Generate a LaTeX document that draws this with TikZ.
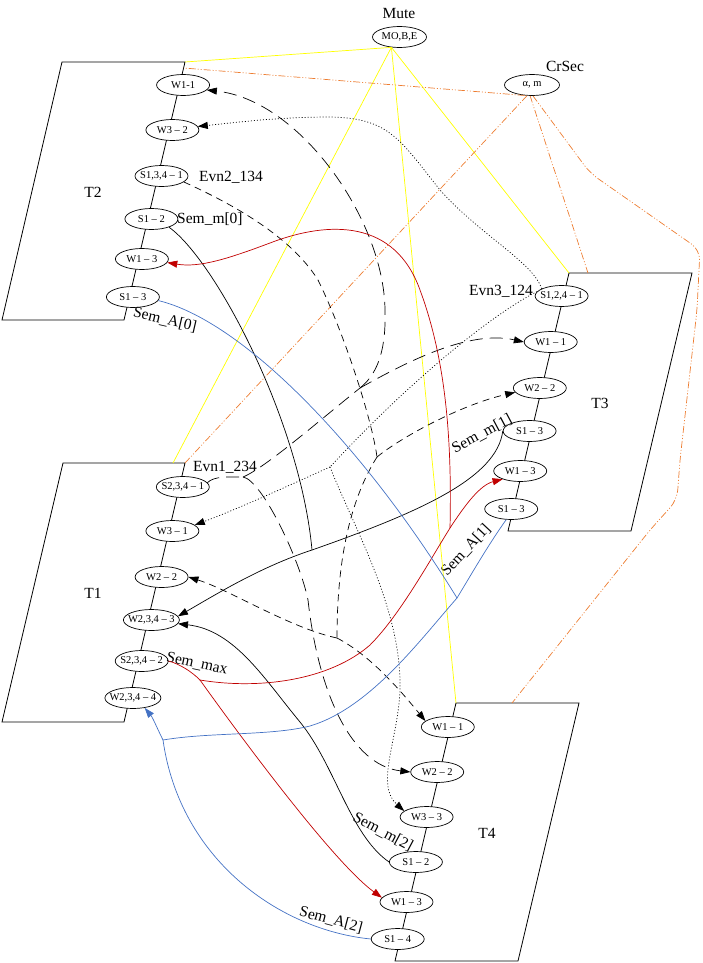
\documentclass[tikz,border=0pt]{standalone}
\usepackage{fontspec}
\setmainfont{Liberation Serif}
\usetikzlibrary{shapes.geometric,arrows.meta}

\begin{document}
\begin{tikzpicture}[x=1pt, y=-1pt, every node/.style={font=\fontsize{10.5}{12}\selectfont}]
			% Define colors
			\definecolor{mute_yellow}{RGB}{255, 255, 0}
			\definecolor{crsec_orange}{RGB}{237, 125, 49}
			\definecolor{sem_red}{RGB}{192, 0, 0}
			\definecolor{sem_blue}{RGB}{68, 114, 196}

			% Styles
			\tikzstyle{task_box} = [draw=black, line width=0.8pt]
			\tikzstyle{state_node} = [ellipse, draw=black, fill=white, line width=0.7pt, minimum width=53pt, minimum height=21pt, inner xsep=-8pt, inner ysep=0pt]
			\tikzstyle{task_label} = [font=\fontsize{15.5}{18}\selectfont]
			\tikzstyle{edge_label} = [font=\fontsize{15.5}{18}\selectfont, inner sep=0pt]
			\tikzstyle{arrow_end} = [-{Triangle[length=10pt,width=7pt]}]
			\tikzstyle{evn_one} = [line width=0.7pt, dash pattern=on 13pt off 7pt]
			\tikzstyle{evn_two} = [line width=0.7pt, dash pattern=on 7pt off 5pt]
			\tikzstyle{evn_three} = [line width=0.7pt, dash pattern=on 1pt off 2pt]
			\tikzstyle{sem_m} = [line width=0.7pt]
			\tikzstyle{sem_max} = [color=sem_red, line width=0.7pt]
			\tikzstyle{sem_a} = [color=sem_blue, line width=0.7pt]
			\tikzstyle{mute_line} = [color=mute_yellow, line width=0.7pt]
			\tikzstyle{crsec_line} = [color=crsec_orange, line width=0.7pt, dash pattern=on 7pt off 2pt on 1pt off 2pt on 1pt off 2pt]

			\useasboundingbox (0,0) rectangle (702,963);

			% Task boxes
			\draw[task_box] (62,62) -- (185,62) -- (124,320) -- (2,320) -- cycle;
			\draw[task_box] (63,463) -- (185,463) -- (124,722) -- (2,722) -- cycle;
			\draw[task_box] (569,273) -- (692,273) -- (631,531) -- (508,531) -- cycle;
			\draw[task_box] (456,703) -- (579,703) -- (518,961) -- (395,961) -- cycle;
			\coordinate (t2ne) at (185,62);
			\coordinate (t2e) at (183.6,68);
			\coordinate (t1n) at (173,463);
			\coordinate (t1ne) at (185,463);
			\coordinate (t3nw) at (569,273);
			\coordinate (t3n) at (588,273);
			\coordinate (t4nw) at (456,703);
			\coordinate (t4n) at (512,703);

			% Task T2
			\node[task_label] (t2) at (93,192) {T2};
			\node[state_node] (t2w11) at (183.1,85) {W1-1};
			\node[state_node] (t2w32) at (172.4,130) {W3 -- 2};
			\node[state_node] (t2s1341) at (161.5,176) {S1,3,4 -- 1};
			\node[state_node] (t2s12) at (151.4,219) {S1 -- 2};
			\node[state_node] (t2w13) at (141.9,259) {W1 -- 3};
			\node[state_node] (t2s13) at (132.9,297) {S1 -- 3};

			% Task T1
			\node[task_label] (t1) at (93,593) {T1};
			\node[state_node] (t1s2341) at (182.8,487) {S2,3,4 -- 1};
			\node[state_node] (t1w31) at (172.4,531) {W3 -- 1};
			\node[state_node] (t1w22) at (161.6,577) {W2 -- 2};
			\node[state_node, minimum width=56pt] (t1w2343) at (151.4,620) {W2,3,4 -- 3};
			\node[state_node] (t1s2342) at (141.7,661) {S2,3,4 -- 2};
			\node[state_node, minimum width=56pt] (t1w2344) at (132.9,698) {W2,3,4 -- 4};

			% Task T3
			\node[task_label] (t3) at (600,403) {T3};
			\node[state_node] (t3s1241) at (561.6,296) {S1,2,4 -- 1};
			\node[state_node] (t3w11) at (550.7,342) {W1 -- 1};
			\node[state_node] (t3w22) at (539.8,388) {W2 -- 2};
			\node[state_node] (t3s13a) at (529.6,431) {S1 -- 3};
			\node[state_node] (t3w13) at (520.2,471) {W1 -- 3};
			\node[state_node] (t3s13b) at (511.2,509) {S1 -- 3};

			% Task T4
			\node[task_label] (t4) at (487,833) {T4};
			\node[state_node] (t4w11) at (447.8,727) {W1 -- 1};
			\node[state_node] (t4w22) at (437.2,772) {W2 -- 2};
			\node[state_node] (t4w33) at (426.6,817) {W3 -- 3};
			\node[state_node] (t4s12) at (415.9,862) {S1 -- 2};
			\node[state_node] (t4w13) at (406.5,902) {W1 -- 3};
			\node[state_node] (t4s14) at (397.7,939) {S1 -- 4};

			% Shared resources
			\node[task_label] (mute_lbl) at (399,14) {Mute};
			\node[state_node, minimum width=54pt] (mute) at (399.5,37) {MO,B,E};
			\node[task_label] (crsec_lbl) at (565,66) {CrSec};
			\node[state_node, minimum width=55pt] (crsec) at (532,85) {α, m};

			% Edge labels
			\node[edge_label, anchor=west] (evn2_lbl) at (199,177) {Evn2\_134};
			\node[edge_label, anchor=west] (semm0_lbl) at (177,219) {Sem\_m[0]};
			\node[edge_label, rotate=-13] (sema0_lbl) at (165,320) {Sem\_A[0]};
			\node[edge_label, anchor=west] (evn1_lbl) at (193,467) {Evn1\_234};
			\node[edge_label, rotate=-12] (semmax_lbl) at (197,664) {Sem\_max};
			\node[edge_label, anchor=east] (evn3_lbl) at (533,291) {Evn3\_124};
			\node[edge_label, rotate=28] (semm1_lbl) at (482,434) {Sem\_m[1]};
			\node[edge_label, rotate=47] (sema1_lbl) at (466,550) {Sem\_A[1]};
			\node[edge_label, rotate=-28] (semm2_lbl) at (383,832) {Sem\_m[2]};
			\node[edge_label, rotate=-15] (sema2_lbl) at (331,920) {Sem\_A[2]};

			% Junctions where edges merge
			\coordinate (j_evn1a) at (243,477);
			\coordinate (j_evn1b) at (360,388);
			\coordinate (j_evn2a) at (377,457);
			\coordinate (j_evn2b) at (337,638);
			\coordinate (j_evn3) at (330,467);
			\coordinate (j_semm) at (312,550);
			\coordinate (j_semmax_a) at (200,680);
			\coordinate (j_semmax_b) at (450,528);
			\coordinate (j_sema_a) at (457,598);
			\coordinate (j_sema_b) at (163,740);

			% Mute and CrSec links
			\draw[mute_line] (mute.-128) -- (t2ne);
			\draw[mute_line] (mute.-128) -- (t1n);
			\draw[mute_line] (mute.-128) -- (t3nw);
			\draw[mute_line] (mute.-128) -- (t4nw);
			\draw[crsec_line] (crsec.-125) -- (t2e);
			\draw[crsec_line] (crsec.-115) -- (t1ne);
			\draw[crsec_line] (crsec.-100) -- (t3n);
			\draw[crsec_line, rounded corners=10pt] (crsec.-85) -- (590,173) -- (700,250) -- (697,310) -- (680,460) -- (677,500) -- (650,530) -- (t4n);

			% Evn1_234
			\draw[evn_one] (t1s2341.10) .. controls (214,476) and (228,477) .. (j_evn1a);
			\draw[evn_one] (j_evn1a) .. controls (265,468) and (320,420) .. (j_evn1b);
			\draw[evn_one, arrow_end] (j_evn1b) .. controls (410,360) and (470,330) .. (t3w11.west);
			\draw[evn_one, arrow_end] (j_evn1b) .. controls (380,372) and (386,345) .. (385,310) .. controls (384,220) and (300,100) .. (t2w11.-12);
			\draw[evn_one, arrow_end] (j_evn1a) .. controls (262,480) and (300,560) .. (308,600) .. controls (318,690) and (350,765) .. (t4w22.west);

			% Evn2_134
			\draw[evn_two] (t2s1341.-15) .. controls (230,203) and (290,235) .. (318,280) .. controls (345,335) and (372,420) .. (j_evn2a);
			\draw[evn_two, arrow_end] (j_evn2a) .. controls (400,438) and (460,405) .. (t3w22.190);
			\draw[evn_two] (j_evn2a) .. controls (350,500) and (337,560) .. (j_evn2b);
			\draw[evn_two, arrow_end] (j_evn2b) .. controls (290,628) and (230,590) .. (t1w22.east);
			\draw[evn_two, arrow_end] (j_evn2b) .. controls (370,655) and (400,690) .. (t4w11.165);

			% Evn3_124
			\draw[evn_three, arrow_end] (t3s1241.160) .. controls (533,262) and (480,235) .. (440,190) .. controls (400,140) and (390,118) .. (330,117) .. controls (280,117) and (240,122) .. (t2w32.8);
			\draw[evn_three] (t3s1241.170) .. controls (500,310) and (420,370) .. (j_evn3);
			\draw[evn_three, arrow_end] (j_evn3) .. controls (290,485) and (240,508) .. (t1w31.15);
			\draw[evn_three, arrow_end] (j_evn3) .. controls (355,530) and (402,610) .. (400,690) .. controls (398,740) and (375,785) .. (t4w33.165);

			% Sem_m
			\draw[sem_m] (t2s12.-25) .. controls (215,260) and (300,420) .. (j_semm);
			\draw[sem_m] (t3s13a.west) .. controls (497,478) and (420,512) .. (j_semm);
			\draw[sem_m, arrow_end] (j_semm) .. controls (260,567) and (215,595) .. (t1w2343.8);
			\draw[sem_m, arrow_end] (t4s12.west) .. controls (350,835) and (335,765) .. (300,722) .. controls (265,680) and (235,630) .. (t1w2343.-8);

			% Sem_max
			\draw[sem_max] (t1s2342.east) .. controls (180,664) and (192,672) .. (j_semmax_a);
			\draw[sem_max, arrow_end] (j_semmax_a) .. controls (260,690) and (330,680) .. (370,645) .. controls (400,615) and (430,560) .. (j_semmax_b) .. controls (465,505) and (480,485) .. (t3w13.205);
			\draw[sem_max, arrow_end] (j_semmax_b) .. controls (452,440) and (446,360) .. (420,290) .. controls (395,220) and (330,220) .. (270,243) .. controls (230,258) and (200,268) .. (t2w13.-8);
			\draw[sem_max, arrow_end] (j_semmax_a) .. controls (225,715) and (330,860) .. (t4w13.170);

			% Sem_A
			\draw[sem_a] (t2s13.-8) .. controls (240,320) and (360,440) .. (j_sema_a);
			\draw[sem_a] (t3s13b.245) .. controls (488,545) and (468,580) .. (j_sema_a);
			\draw[sem_a] (j_sema_a) .. controls (420,640) and (370,708) .. (310,726) .. controls (270,736) and (210,732) .. (j_sema_b);
			\draw[sem_a, arrow_end] (j_sema_b) .. controls (157,728) and (153,718) .. (t1w2344.-40);
			\draw[sem_a] (t4s14.west) .. controls (280,930) and (180,860) .. (j_sema_b);

		\end{tikzpicture}
\end{document}
